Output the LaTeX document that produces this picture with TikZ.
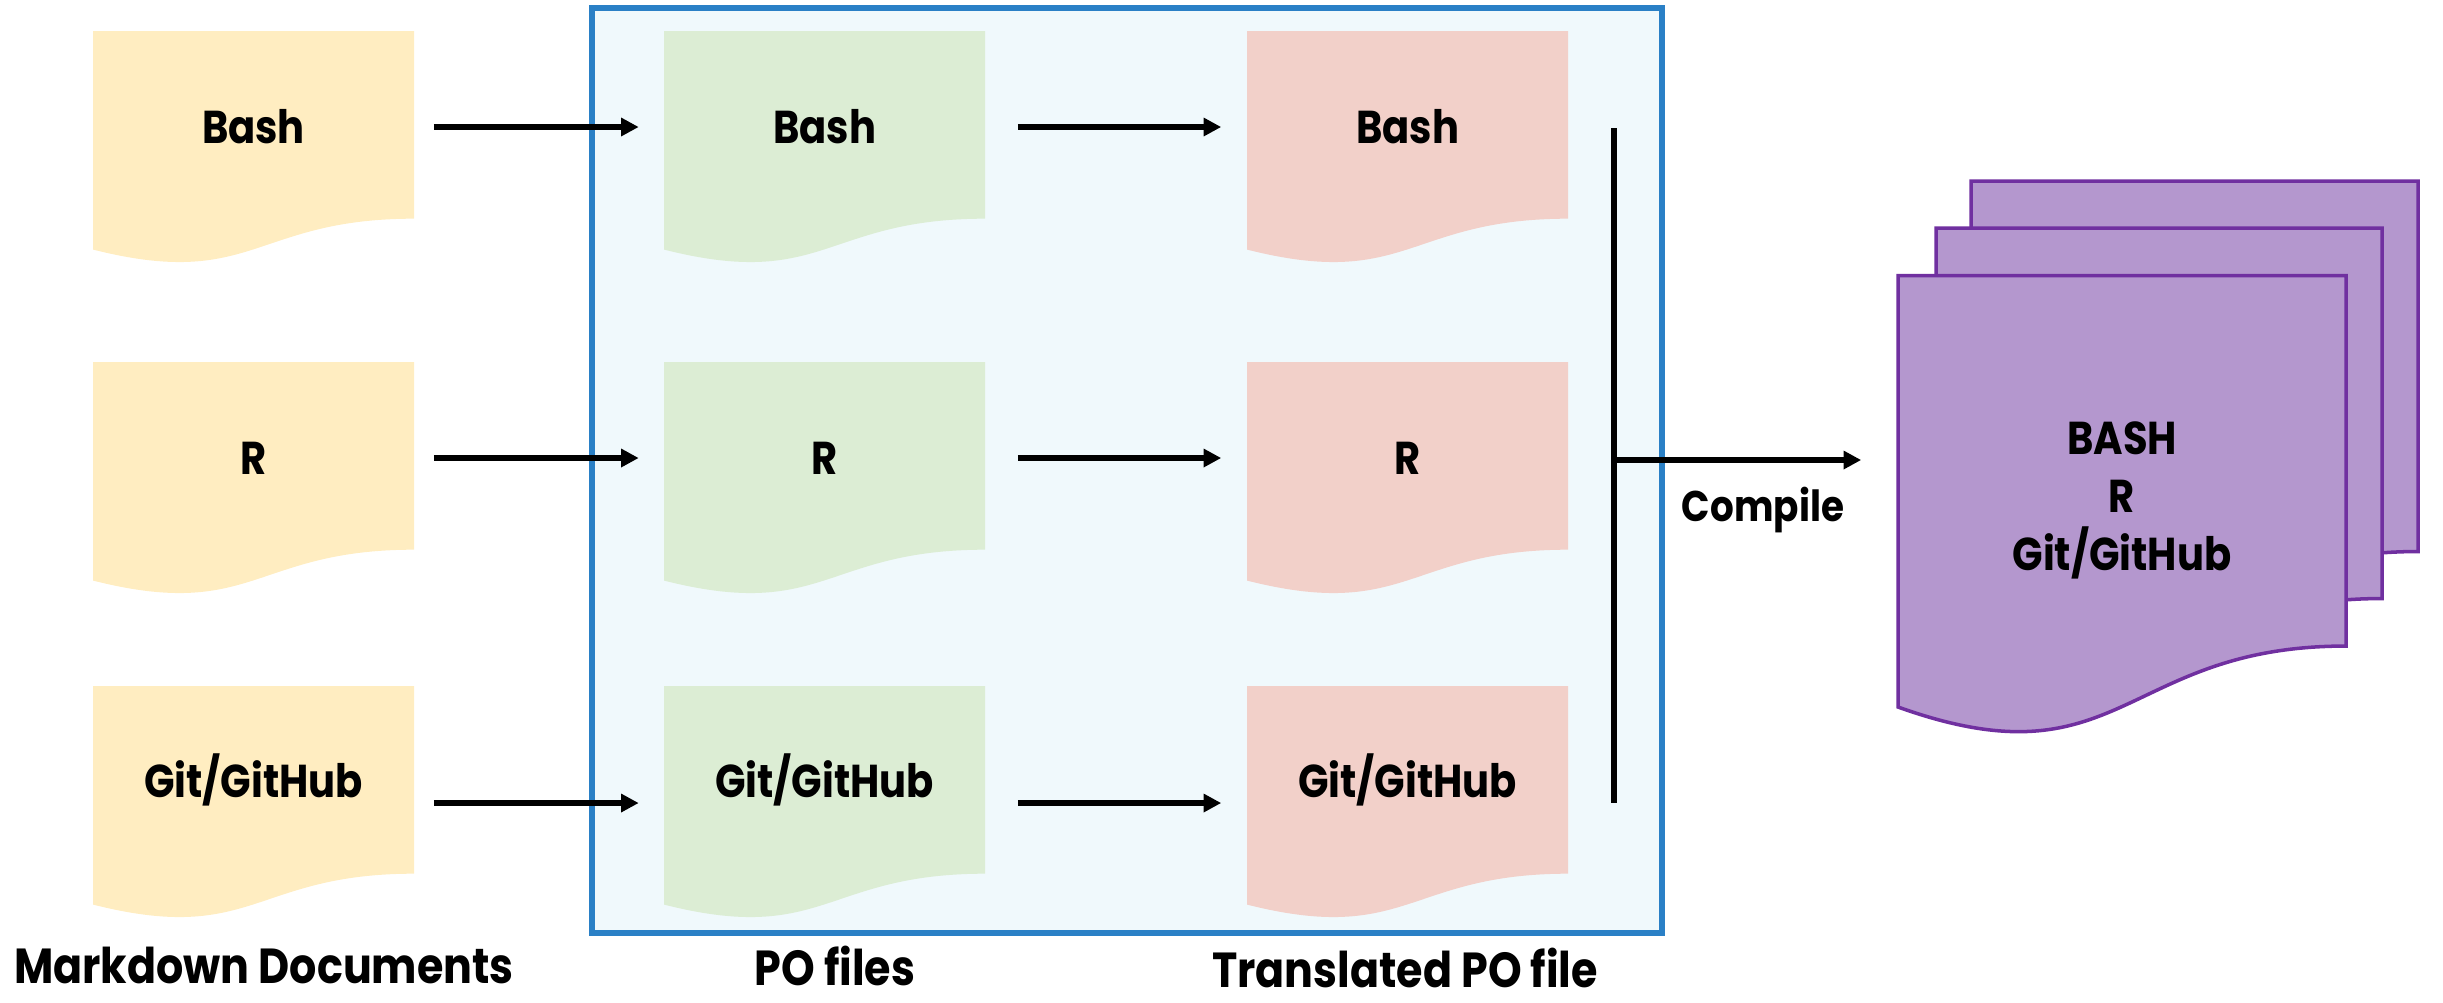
\documentclass[tikz,border=0pt]{standalone}
\usepackage{fontspec}
\setmainfont{Poppins}[FakeStretch=0.87]
\usetikzlibrary{arrows.meta}

\definecolor{mdfill}{HTML}{FFEDC1}
\definecolor{pofill}{HTML}{DCEDD4}
\definecolor{trfill}{HTML}{F2D0C9}
\definecolor{boxfill}{HTML}{F0F9FC}
\definecolor{boxline}{HTML}{2A80C6}
\definecolor{outfill}{HTML}{B497CE}
\definecolor{outline}{HTML}{7030A0}

\tikzstyle{doctext}=[font=\bfseries\fontsize{13.1}{16.5}\selectfont, inner sep=0pt, minimum width=3.21cm, text height=0.32cm, text depth=0pt]
\tikzstyle{caption}=[font=\bfseries\fontsize{14}{17}\selectfont, inner sep=0pt, text height=0.34cm, text depth=0pt]
\tikzstyle{flow}=[line width=1.5pt, -{Triangle[length=5pt,width=5pt]}]

% page with a wavy bottom: x, y (top left), width, height, style
\newcommand{\wavedoc}[5]{%
  \pgfmathsetmacro\wdRight{#1+#3}
  \pgfmathsetmacro\wdMid{#1+0.5*#3}
  \pgfmathsetmacro\wdYr{#2+0.802*#4}
  \pgfmathsetmacro\wdYl{#2+0.934*#4}
  \pgfmathsetmacro\wdYc{#2+1.1075*#4}
  \path[#5] (#1,#2) -- (\wdRight,#2) -- (\wdRight,\wdYr)
    .. controls (\wdMid,\wdYr) and (\wdMid,\wdYc) .. (#1,\wdYl) -- cycle;
}

\begin{document}
\begin{tikzpicture}[x=0.01cm, y=-0.01cm]
    \useasboundingbox (0,0) rectangle (2443,1002);
% Frame round the PO files
    \draw[boxline, fill=boxfill, line width=1.5pt] (592,8) rectangle (1662,933);
% Pages
    \wavedoc{93}{31}{321}{234}{fill=mdfill}
    \wavedoc{93}{362}{321}{234}{fill=mdfill}
    \wavedoc{93}{686}{321}{234}{fill=mdfill}
    \wavedoc{664}{31}{321}{234}{fill=pofill}
    \wavedoc{664}{362}{321}{234}{fill=pofill}
    \wavedoc{664}{686}{321}{234}{fill=pofill}
    \wavedoc{1247}{31}{321}{234}{fill=trfill}
    \wavedoc{1247}{362}{321}{234}{fill=trfill}
    \wavedoc{1247}{686}{321}{234}{fill=trfill}
% Compiled stack
    \wavedoc{1971}{181}{447}{462}{fill=outfill, draw=outline, line width=1pt}
    \wavedoc{1936}{228}{446}{462}{fill=outfill, draw=outline, line width=1pt}
    \wavedoc{1898}{275.5}{448}{462}{fill=outfill, draw=outline, line width=1pt}
% Texts
    \node (mdBash) [doctext] at (253.5,127) {Bash};
    \node (mdR) [doctext] at (253.5,458) {R};
    \node (mdGit) [doctext] at (253.5,781) {Git/GitHub};
    \node (poBash) [doctext] at (824.5,127) {Bash};
    \node (poR) [doctext] at (824.5,458) {R};
    \node (poGit) [doctext] at (824.5,781) {Git/GitHub};
    \node (trBash) [doctext] at (1407.5,127) {Bash};
    \node (trR) [doctext] at (1407.5,458) {R};
    \node (trGit) [doctext] at (1407.5,781) {Git/GitHub};
    \node (stack) [font=\bfseries\fontsize{13.1}{16.5}\selectfont, align=center, inner sep=0pt, minimum width=4.48cm] at (2122,500) {BASH\\R\\Git/GitHub};
% Arrows
    \draw[flow, shorten <=0.19cm, shorten >=0.245cm] (mdBash.east) -- (poBash.west);
    \draw[flow, shorten <=0.19cm, shorten >=0.245cm] (mdR.east) -- (poR.west);
    \draw[flow, shorten <=0.19cm, shorten >=0.245cm] ([yshift=-0.22cm]mdGit.east) -- ([yshift=-0.22cm]poGit.west);
    \draw[flow, shorten <=0.32cm, shorten >=0.25cm] (poBash.east) -- (trBash.west);
    \draw[flow, shorten <=0.32cm, shorten >=0.25cm] (poR.east) -- (trR.west);
    \draw[flow, shorten <=0.32cm, shorten >=0.25cm] ([yshift=-0.22cm]poGit.east) -- ([yshift=-0.22cm]trGit.west);
% Bar and compile step
    \coordinate (barTop) at (1614,128);
    \coordinate (barBot) at (1614,803);
    \coordinate (barJoin) at (1614,460);
    \draw[line width=1.5pt] (barTop) -- (barBot);
    \draw[flow, shorten >=0.36cm] (barJoin) -- (barJoin -| stack.west);
    \node (compile) [doctext, font=\bfseries\fontsize{12.2}{15}\selectfont, minimum width=0pt] at (1763,505) {Compile};
% Column captions
    \node (mdLabel) [caption] at (264,966) {Markdown Documents};
    \node (poLabel) [caption] at (835,968) {PO files};
    \node (trLabel) [caption] at (1405,970) {Translated PO file};
\end{tikzpicture}
\end{document}
